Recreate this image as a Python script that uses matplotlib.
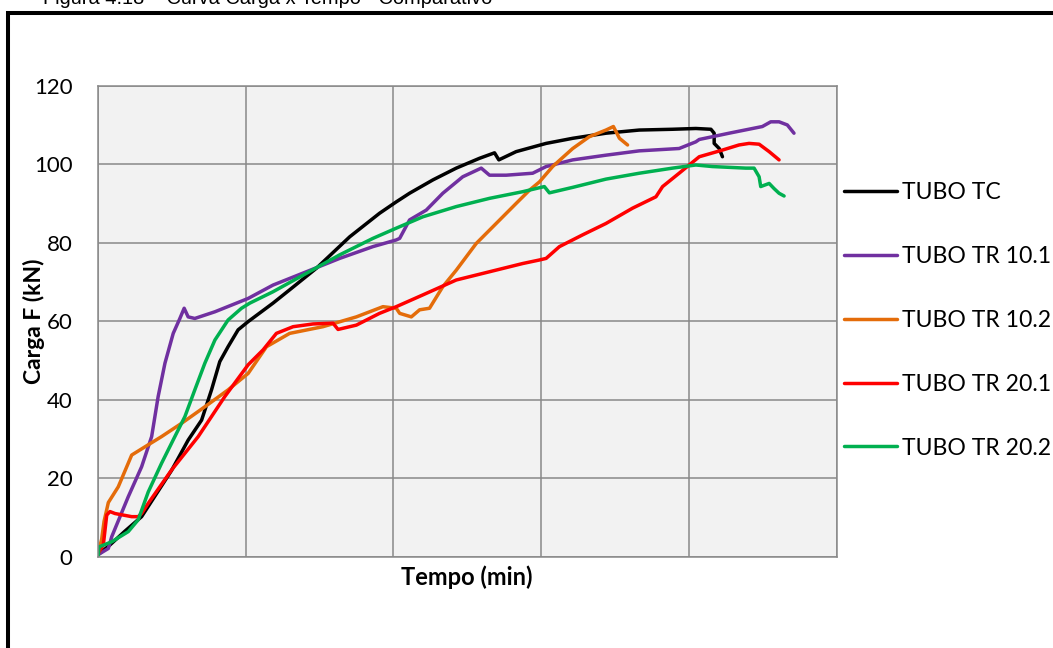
import matplotlib
matplotlib.use("Agg")
import matplotlib.pyplot as plt
from matplotlib.patches import Rectangle

# ---- data: load (kN) against elapsed time (grid units) ----
t_tc = [0.002, 0.083, 0.184, 0.297, 0.500, 0.612, 0.703, 0.770, 0.826, 0.882, 0.950, 1.018,
        1.186, 1.299, 1.480, 1.705, 1.907, 2.020, 2.110, 2.268, 2.426, 2.583, 2.685, 2.714,
        2.831, 3.034, 3.214, 3.439, 3.664, 3.889, 4.047, 4.149, 4.171, 4.171, 4.205, 4.227]
f_tc = [0.5, 3.0, 6.5, 10.2, 22.0, 29.7, 34.8, 42.5, 49.7, 53.5, 57.8, 59.9,
        64.6, 68.0, 73.5, 81.5, 87.5, 90.4, 92.6, 96.0, 99.0, 101.5, 102.9, 101.1,
        103.2, 105.3, 106.6, 107.9, 108.7, 108.9, 109.1, 108.9, 107.9, 105.3, 104.0, 101.9]

t_tr101 = [0.002, 0.072, 0.095, 0.207, 0.297, 0.365, 0.409, 0.455, 0.511, 0.556, 0.585,
           0.612, 0.657, 0.793, 1.018, 1.186, 1.412, 1.637, 1.862, 2.020, 2.043, 2.110,
           2.223, 2.335, 2.470, 2.595, 2.651, 2.764, 2.943, 3.034, 3.214, 3.439, 3.664,
           3.934, 4.047, 4.070, 4.272, 4.497, 4.554, 4.610, 4.666, 4.711]
f_tr101 = [0.5, 2.1, 5.1, 15.3, 22.9, 30.6, 40.8, 49.3, 56.9, 60.7, 63.3,
           61.1, 60.7, 62.4, 65.8, 69.2, 72.6, 76.0, 79.0, 80.7, 81.1, 85.8,
           88.3, 92.6, 96.8, 99.0, 97.2, 97.2, 97.7, 99.4, 101.1, 102.3, 103.4,
           104.0, 105.7, 106.3, 107.9, 109.6, 110.8, 110.8, 110.0, 107.9]

t_tr102 = [0.004, 0.027, 0.043, 0.072, 0.139, 0.230, 0.320, 0.432, 0.568, 0.725, 0.882,
           1.018, 1.142, 1.299, 1.524, 1.750, 1.930, 2.020, 2.043, 2.122, 2.178, 2.245,
           2.335, 2.426, 2.561, 2.696, 2.831, 2.922, 2.989, 3.078, 3.214, 3.326, 3.439,
           3.489, 3.530, 3.585]
f_tr102 = [1.0, 4.5, 9.0, 13.8, 17.8, 25.9, 28.0, 30.6, 34.0, 38.2, 42.5,
           46.7, 53.5, 56.9, 58.6, 61.1, 63.7, 63.3, 62.0, 61.1, 62.9, 63.3,
           68.8, 73.0, 79.8, 84.9, 90.0, 93.4, 95.5, 99.4, 104.0, 107.0, 108.7,
           109.6, 106.6, 104.9]

t_tr201 = [0.004, 0.038, 0.061, 0.083, 0.117, 0.230, 0.274, 0.297, 0.342, 0.500, 0.680,
           0.860, 1.018, 1.119, 1.209, 1.322, 1.457, 1.592, 1.626, 1.750, 1.907, 2.020,
           2.200, 2.426, 2.651, 2.876, 2.989, 3.034, 3.124, 3.281, 3.439, 3.619, 3.777,
           3.822, 3.934, 4.070, 4.227, 4.339, 4.407, 4.475, 4.543, 4.610]
f_tr201 = [0.9, 3.0, 10.6, 11.5, 11.0, 10.2, 10.2, 11.0, 13.6, 22.1, 30.6,
           40.8, 48.9, 52.7, 56.9, 58.6, 59.3, 59.5, 57.9, 59.0, 62.0, 63.7,
           66.7, 70.5, 72.6, 74.7, 75.6, 76.0, 79.0, 82.0, 84.9, 88.8, 91.7,
           94.3, 97.7, 101.9, 103.6, 104.9, 105.3, 105.1, 103.2, 101.1]

t_tr202 = [0.004, 0.009, 0.095, 0.207, 0.274, 0.342, 0.432, 0.522, 0.590, 0.657, 0.725,
           0.793, 0.882, 0.973, 1.029, 1.186, 1.412, 1.637, 1.862, 2.020, 2.200, 2.426,
           2.651, 2.876, 3.022, 3.056, 3.214, 3.439, 3.664, 3.889, 4.047, 4.159, 4.385,
           4.441, 4.475, 4.486, 4.543, 4.576, 4.610, 4.644]
f_tr202 = [0.4, 2.5, 3.8, 6.4, 9.4, 16.5, 23.8, 30.6, 35.7, 42.5, 49.3,
           55.2, 60.3, 63.3, 64.6, 67.5, 72.2, 76.9, 81.1, 83.7, 86.6, 89.2,
           91.3, 93.0, 94.3, 92.7, 94.1, 96.2, 97.7, 99.0, 99.8, 99.4, 99.0,
           99.0, 96.8, 94.3, 95.1, 93.8, 92.6, 91.9]

series_labels = ["TUBO TC", "TUBO TR 10.1", "TUBO TR 10.2", "TUBO TR 20.1", "TUBO TR 20.2"]
series_colors = ["#000000", "#7030A0", "#E46C0A", "#FF0000", "#00B050"]
y_ticks = [0, 20, 40, 60, 80, 100, 120]
x_grid = [0, 1, 2, 3, 4, 5]

series = [(t_tc, f_tc), (t_tr101, f_tr101), (t_tr102, f_tr102),
          (t_tr201, f_tr201), (t_tr202, f_tr202)]

# ---- figure ----
W, H, DPI = 1053, 648, 100
fig = plt.figure(figsize=(W / DPI, H / DPI), dpi=DPI)
fig.patch.set_facecolor("white")

body_font = "Lato"

# caption above the framed chart (cut by the page edge)
fig.text(43 / W, 1 - 4.5 / H, "Figura 4.18 – Curva Carga x Tempo - Comparativo",
         family="Liberation Sans", fontsize=14.4, ha="left", va="baseline", color="#000000")

# thick black frame around the chart object
frame = Rectangle((8 / W, -0.2), 1.2, (H - 12.5) / H + 0.2, transform=fig.transFigure,
                  fill=False, edgecolor="black", linewidth=2.9, zorder=0)
fig.patches.append(frame)

ax_w = 836.7 - 97.7
ax_h = 556.7 - 85.7
ax = fig.add_axes([97.7 / W, 1 - 556.7 / H, ax_w / W, ax_h / H])
ax.set_facecolor("#F2F2F2")

for (tx, fy), lab, col in zip(series, series_labels, series_colors):
    ax.plot(tx, fy, color=col, linewidth=2.5, label=lab, solid_joinstyle="round",
            solid_capstyle="round")

ax.set_xlim(0, 5)
ax.set_ylim(0, 120)
ax.set_xticks(x_grid)
ax.set_xticklabels([])
ax.set_yticks(y_ticks)
ax.set_yticklabels([str(v) for v in y_ticks], family=body_font, fontsize=16)
ax.tick_params(axis="both", length=0)
ax.tick_params(axis="y", pad=18)
ax.grid(True, color="#898989", linewidth=1.1)
ax.set_axisbelow(True)
for sp in ax.spines.values():
    sp.set_color("#898989")
    sp.set_linewidth(1.1)

ax.set_ylabel("Carga F (kN)", family=body_font, fontweight="bold", fontsize=16.5)
ax.yaxis.set_label_coords(-53 / ax_w, 0.5)
ax.set_xlabel("Tempo (min)", family=body_font, fontweight="bold", fontsize=17)
ax.xaxis.set_label_coords(0.5, -9 / ax_h)

leg = fig.legend(loc="upper left", bbox_to_anchor=(844 / W, 1 - 182 / H),
                 frameon=False, prop={"family": body_font, "size": 16.6},
                 handlelength=2.3, handletextpad=0.22, labelspacing=1.86,
                 borderaxespad=0, borderpad=0)
for ln in leg.get_lines():
    ln.set_linewidth(2.5)

fig.savefig("out.png", dpi=DPI)
